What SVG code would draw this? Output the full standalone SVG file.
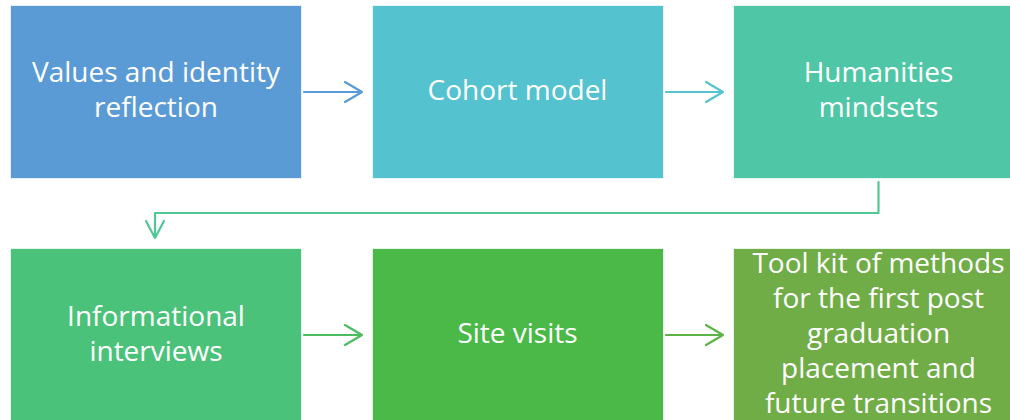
<svg xmlns="http://www.w3.org/2000/svg" width="1010" height="420" viewBox="0 0 1010 420">
<style>
.box{stroke:#ffffff;stroke-opacity:0.7;stroke-width:1}
.t{font-family:"Open Sans","Noto Sans",sans-serif;font-size:28px;fill:#ffffff;text-anchor:middle}
.c{fill:none;stroke-width:2.2;stroke-linecap:round;stroke-linejoin:round}
</style>
<rect width="1010" height="420" fill="#ffffff"/>
<g id="node1"><rect class="box" x="10.5" y="5.5" width="291" height="173" fill="#5B9BD5"/>
<text class="t" x="156" y="82">Values and identity</text><text class="t" x="156" y="117">reflection</text></g>
<g id="node2"><rect class="box" x="372.5" y="5.5" width="291" height="173" fill="#54C2CF"/>
<text class="t" x="517.5" y="100">Cohort model</text></g>
<g id="node3"><rect class="box" x="733.5" y="5.5" width="291" height="173" fill="#4FC7A6"/>
<text class="t" x="878.5" y="82">Humanities</text><text class="t" x="878.5" y="117">mindsets</text></g>
<g id="node4"><rect class="box" x="10.5" y="248.5" width="291" height="173" fill="#4BC27A"/>
<text class="t" x="156" y="326">Informational</text><text class="t" x="156" y="361">interviews</text></g>
<g id="node5"><rect class="box" x="372.5" y="248.5" width="291" height="173" fill="#4AB948"/>
<text class="t" x="517.5" y="343">Site visits</text></g>
<g id="node6"><rect class="box" x="733.5" y="248.5" width="291" height="173" fill="#70AD47"/>
<text class="t" x="878.5" y="273">Tool kit of methods</text>
<text class="t" x="878.5" y="308">for the first post</text>
<text class="t" x="878.5" y="343">graduation</text>
<text class="t" x="878.5" y="378">placement and</text>
<text class="t" x="878.5" y="413">future transitions</text></g>
<g id="connectors">
<path class="c" stroke="#5B9BD5" d="M304 92H362M345 82L362 92L345 102"/>
<path class="c" stroke="#55C4CF" d="M666 92H723M706 82L723 92L706 102"/>
<path class="c" stroke="#50C896" d="M878.5 182V213H155V238M146 221L155 238L164 221"/>
<path class="c" stroke="#4BBD60" d="M304 335H362M345 325L362 335L345 345"/>
<path class="c" stroke="#5EB347" d="M666 335H723M706 325L723 335L706 345"/>
</g>
</svg>
